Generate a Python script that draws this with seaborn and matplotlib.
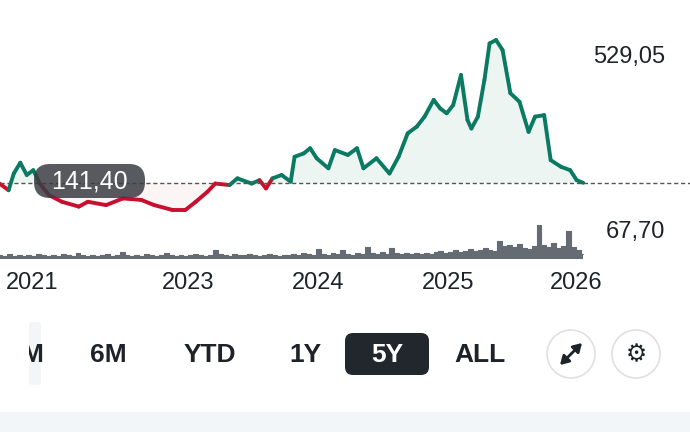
import numpy as np
import matplotlib
matplotlib.use("Agg")
import matplotlib.pyplot as plt
import seaborn as sns
from matplotlib.collections import LineCollection
from matplotlib.patches import FancyBboxPatch, Circle

sns.set_style("white")
plt.rcParams['font.family'] = ['Liberation Sans', 'DejaVu Sans']

t = [2020.75,2020.82,2020.86,2020.91,2020.96,2021.01,2021.06,2021.13,2021.23,2021.36,2021.43,2021.57,2021.70,2021.84,2021.94,2022.08,2022.18,2022.26,2022.35,2022.41,2022.52,2022.58,2022.69,2022.75,2022.80,2022.85,2022.92,2022.99,2023.02,2023.09,2023.14,2023.19,2023.28,2023.33,2023.43,2023.50,2023.55,2023.65,2023.75,2023.82,2023.89,2023.96,2024.02,2024.09,2024.14,2024.19,2024.24,2024.30,2024.35,2024.38,2024.43,2024.48,2024.52,2024.57,2024.62,2024.68,2024.75,2024.82,2024.87,2024.94,2024.99,2025.07,2025.14,2025.19,2025.24]
price = [140,122,167,196,163,176,140,109,91,78,91,82,100,96,82,69,69,91,118,140,136,154,140,149,127,154,163,145,212,221,235,208,181,230,217,235,181,208,167,212,275,293,320,365,342,329,351,432,311,288,320,418,517,526,499,383,360,279,320,324,203,185,176,149,142]
base = 141.40
vol = [4,3,5,3,4,3,4,3,5,4,3,4,3,5,4,3,6,4,3,4,3,4,5,3,4,7,4,3,4,3,
       5,4,3,4,6,4,3,4,3,4,5,4,3,4,9,5,4,3,5,4,4,5,4,3,4,5,4,3,4,4,
       5,4,6,5,4,10,5,4,6,5,9,5,4,6,5,12,6,5,7,5,11,6,5,6,5,6,5,6,5,7,
       8,6,7,9,7,8,10,8,9,11,9,8,18,13,14,12,15,11,10,13,34,14,12,16,11,13,28,12,9,5]
vol_t = list(np.linspace(2020.75, 2025.24, len(vol)))
ticks_t = [2021.0, 2022.2, 2023.2, 2024.2, 2025.19]
tick_labels = ["2021", "2023", "2024", "2025", "2026"]
buttons = ["M", "6M", "YTD", "1Y", "5Y", "ALL"]

GREEN = "#0b7a62"; RED = "#c8102e"; INK = "#1e2329"
fig = plt.figure(figsize=(6.9, 4.32), dpi=100)
W, H = 690, 432
def ax_rect(x0, y0, x1, y1):
    return [x0 / W, 1 - y1 / H, (x1 - x0) / W, (y1 - y0) / H]

ax = fig.add_axes(ax_rect(0, 30, 690, 262))
xlim = (2020.754, 2020.754 + 690 / 130)
ax.set_xlim(*xlim); ax.set_ylim(-71, 553)
ax.axis("off")
ta, pa = np.array(t), np.array(price)
ax.fill_between(ta, pa, base, where=pa >= base, color=GREEN, alpha=0.07, lw=0, interpolate=True)
ax.fill_between(ta, pa, base, where=pa < base, color=RED, alpha=0.04, lw=0, interpolate=True)
pts = np.column_stack([ta, pa])
segs = np.stack([pts[:-1], pts[1:]], axis=1)
cols = [GREEN if (a + b) / 2 >= base else RED for a, b in zip(pa[:-1], pa[1:])]
ax.add_collection(LineCollection(segs, colors=cols, linewidths=2.8, capstyle="round", joinstyle="round"))
ax.axhline(base, color="#555555", ls=(0, (3, 2)), lw=1)

vax = fig.add_axes(ax_rect(0, 215, 690, 259))
vax.set_xlim(*xlim); vax.set_ylim(0, 44); vax.axis("off")
vax.fill_between(vol_t, vol, 0, step="mid", color="#656b72", lw=0)
vax.plot(vol_t, vol, drawstyle="steps-mid", color="#656b72", lw=0.8)

for tt, lab in zip(ticks_t, tick_labels):
    fig.text((tt - xlim[0]) * 130 / W, 1 - 283 / H, lab, ha="center", va="center", fontsize=17, color=INK)

fig.text(665 / W, 1 - 57 / H, "529,05", ha="right", va="center", fontsize=17, color=INK)
fig.text(665 / W, 1 - 232 / H, "67,70", ha="right", va="center", fontsize=17, color=INK)

fa = fig.add_axes([0, 0, 1, 1], facecolor="none")
fa.set_xlim(0, W); fa.set_ylim(H, 0); fa.axis("off")
fa.add_patch(FancyBboxPatch((34, 164), 111, 34, boxstyle="round,pad=0,rounding_size=16", fc="#3a3d42", ec="none", alpha=0.85))
fa.text(89, 181, "141,40", ha="center", va="center", fontsize=18, color="white")
fa.add_patch(plt.Rectangle((0, 412), W, 20, fc="#f3f6f8", ec="none"))
bx = [32, 108, 210, 305, 387, 480]
for x, b in zip(bx, buttons):
    fa.text(x, 355, b, ha="center", va="center", fontsize=19, color="white" if b == "5Y" else INK, fontweight="bold")
fa.add_patch(plt.Rectangle((0, 320), 29, 70, fc="white", ec="none", zorder=5))
fa.add_patch(FancyBboxPatch((29, 322), 12, 63, boxstyle="round,pad=0,rounding_size=4", fc="#f4f5f6", ec="none", zorder=1))
fa.add_patch(FancyBboxPatch((345, 333), 84, 42, boxstyle="round,pad=0,rounding_size=8", fc="#22272e", ec="none", zorder=0))
for cx in [571, 636]:
    fa.add_patch(Circle((cx, 354), 24, fc="white", ec="#e0e0e0", lw=1.2))
for end in [(582, 343), (560, 365)]:
    fa.annotate("", xy=end, xytext=(571, 354),
                arrowprops=dict(arrowstyle="-|>,head_length=0.5,head_width=0.3", color=INK, lw=2, shrinkA=0, shrinkB=0))
fa.text(636, 354, "⚙", ha="center", va="center", fontsize=17, color=INK, family="DejaVu Sans")

fig.savefig("out.png", dpi=100)
